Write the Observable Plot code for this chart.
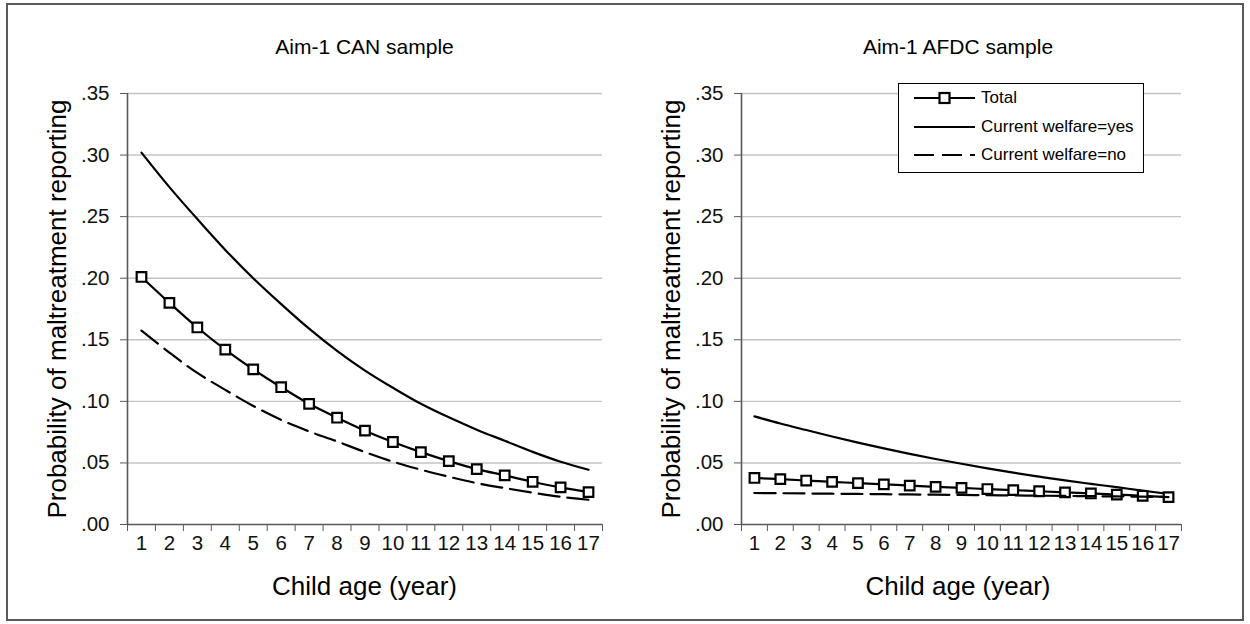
<!DOCTYPE html>
<html>
<head>
<meta charset="utf-8">
<script src="https://cdn.jsdelivr.net/npm/d3@7"></script>
<script src="https://cdn.jsdelivr.net/npm/@observablehq/plot@0.6"></script>
<style>
  body { margin: 0; background: #fff; font-family: "Liberation Sans", Arial, sans-serif; }
  #wrap { position: relative; width: 1250px; height: 624px; overflow: hidden; background: #fff; }
  #frame { position: absolute; left: 6px; top: 3px; width: 1238px; height: 618px; border: 2px solid #595959; box-sizing: border-box; }
  .panel { position: absolute; top: 0; }
  .title { position: absolute; font-size: 21px; line-height: 24px; text-align: center; color: #000; white-space: nowrap; }
  .xlab { position: absolute; font-size: 26px; line-height: 30px; text-align: center; color: #000; white-space: nowrap; }
  .ylab { position: absolute; font-size: 26px; line-height: 30px; text-align: center; color: #000; white-space: nowrap; width: 500px; transform: rotate(-90deg); transform-origin: 50% 50%; }
  #legend { position: absolute; background: #fff; border: 1.5px solid #000; box-sizing: border-box; }
  .lrow { position: absolute; left: 0; height: 26px; display: flex; align-items: center; }
  .lrow span { font-size: 17px; color: #000; margin-left: 4px; white-space: nowrap; }
</style>
</head>
<body>
<div id="wrap">
  <div id="frame"></div>
</div>
<script>
// ---- data ----
const ages = [1, 2, 3, 4, 5, 6, 7, 8, 9, 10, 11, 12, 13, 14, 15, 16, 17];

const canTotal = [0.201, 0.180, 0.160, 0.142, 0.126, 0.1115, 0.098, 0.0867, 0.0762, 0.067, 0.0588, 0.0515, 0.045, 0.0399, 0.0347, 0.0301, 0.0263];
const canYes   = [0.302, 0.274, 0.248, 0.223, 0.200, 0.179, 0.159, 0.141, 0.125, 0.111, 0.098, 0.087, 0.077, 0.068, 0.059, 0.051, 0.0445];
const canNo    = [0.1575, 0.1396, 0.1231, 0.1093, 0.0963, 0.0849, 0.0756, 0.0675, 0.0588, 0.051, 0.0445, 0.0388, 0.0336, 0.0296, 0.0258, 0.0225, 0.0201];

const afdcTotal = [0.0378, 0.0368, 0.0357, 0.0346, 0.0336, 0.0326, 0.0316, 0.0306, 0.0297, 0.0288, 0.0279, 0.0270, 0.0261, 0.0252, 0.0243, 0.0233, 0.0222];
const afdcYes   = [0.0878, 0.0820, 0.0767, 0.0715, 0.0665, 0.0618, 0.0574, 0.0532, 0.0493, 0.0456, 0.0421, 0.0389, 0.0358, 0.0330, 0.0303, 0.0275, 0.0248];
const afdcNo    = [0.0256, 0.0254, 0.0252, 0.0250, 0.0248, 0.0246, 0.0244, 0.0242, 0.0240, 0.0238, 0.0236, 0.0234, 0.0232, 0.0230, 0.0228, 0.0226, 0.0223];

const yTicks = [0, 0.05, 0.10, 0.15, 0.20, 0.25, 0.30, 0.35];
const yTickLabels = [".00", ".05", ".10", ".15", ".20", ".25", ".30", ".35"];
const panelTitles = ["Aim-1 CAN sample", "Aim-1 AFDC sample"];
const seriesNames = ["Total", "Current welfare=yes", "Current welfare=no"];
const xTitle = "Child age (year)";
const yTitle = "Probability of maltreatment reporting";

// ---- drawing ----
const wrap = document.getElementById("wrap");
const H = 624, MT = 93, MB = 100;
const INK = "#000", AXIS = "#595959", GRID = "#c4c4c4";

function rows(vals) { return ages.map((a, i) => ({age: a, v: vals[i]})); }

function makePanel(total, yes, no, cfg) {
  const lo = ages[0] - 0.5, hi = ages[ages.length - 1] + 0.5;
  const bounds = [lo, ...ages.map(a => a + 0.5)];
  const plot = Plot.plot({
    width: cfg.width, height: H,
    marginLeft: cfg.ml, marginRight: cfg.mr, marginTop: MT, marginBottom: MB,
    style: {background: "transparent", color: AXIS, fontFamily: "Liberation Sans, Arial, sans-serif", overflow: "visible"},
    x: {type: "linear", domain: [lo, hi], ticks: bounds, tickFormat: () => "", tickSize: 7, label: null},
    y: {domain: [0, 0.35], ticks: yTicks, tickFormat: () => "", tickSize: 7, label: null},
    marks: [
      Plot.ruleY(yTicks.slice(1), {stroke: GRID, strokeWidth: 1.4}),
      Plot.ruleY([0], {stroke: AXIS, strokeWidth: 1.6}),
      Plot.ruleX([lo], {stroke: AXIS, strokeWidth: 1.6}),
      Plot.text(ages, {x: d => d, frameAnchor: "bottom", dy: 25, text: d => String(d), fill: "#111", fontSize: 20.5}),
      Plot.text(yTicks, {y: d => d, frameAnchor: "left", dx: -18, textAnchor: "end", text: (d, i) => yTickLabels[i], fill: "#111", fontSize: 20.5}),
      Plot.line(rows(yes), {x: "age", y: "v", stroke: INK, strokeWidth: 2.2, curve: "catmull-rom"}),
      Plot.line(rows(total), {x: "age", y: "v", stroke: INK, strokeWidth: 2.2, curve: "catmull-rom"}),
      Plot.dot(rows(total), {x: "age", y: "v", symbol: "square", r: 5.4, fill: "white", stroke: INK, strokeWidth: 2.2}),
      Plot.line(rows(no), {x: "age", y: "v", stroke: INK, strokeWidth: 2.2, strokeDasharray: "21,8", curve: "catmull-rom"})
    ]
  });
  const holder = document.createElement("div");
  holder.className = "panel";
  holder.style.left = cfg.left + "px";
  holder.appendChild(plot);
  wrap.appendChild(holder);

  const x0 = cfg.left + cfg.ml;
  const cx = cfg.cx;
  const t = document.createElement("div");
  t.className = "title"; t.textContent = cfg.title;
  t.style.left = (cx - 200) + "px"; t.style.width = "400px"; t.style.top = "35px";
  wrap.appendChild(t);

  const xl = document.createElement("div");
  xl.className = "xlab"; xl.textContent = xTitle;
  xl.style.left = (cx - 200) + "px"; xl.style.width = "400px"; xl.style.top = "571px";
  wrap.appendChild(xl);

  const yl = document.createElement("div");
  yl.className = "ylab"; yl.textContent = yTitle;
  const ycx = x0 - 70, ycy = (MT + (H - MB)) / 2;
  yl.style.left = (ycx - 250) + "px"; yl.style.top = (ycy - 15) + "px";
  wrap.appendChild(yl);
}

makePanel(canTotal, canYes, canNo, {left: 0, width: 625, ml: 127, mr: 23, cx: 364.5, title: panelTitles[0]});
makePanel(afdcTotal, afdcYes, afdcNo, {left: 625, width: 625, ml: 116, mr: 69, cx: 958, title: panelTitles[1]});

// ---- legend ----
const legend = document.createElement("div");
legend.id = "legend";
Object.assign(legend.style, {left: "898px", top: "83px", width: "246px", height: "90px"});
const styles = [
  {dash: null, marker: true},
  {dash: null, marker: false},
  {dash: "20,8", marker: false}
];
seriesNames.forEach((name, i) => {
  const row = document.createElement("div");
  row.className = "lrow";
  row.style.top = (1 + i * 28.5) + "px";
  const ns = "http://www.w3.org/2000/svg";
  const svg = document.createElementNS(ns, "svg");
  svg.setAttribute("width", "78"); svg.setAttribute("height", "26");
  const ln = document.createElementNS(ns, "line");
  ln.setAttribute("x1", "15"); ln.setAttribute("x2", "76");
  ln.setAttribute("y1", "13"); ln.setAttribute("y2", "13");
  ln.setAttribute("stroke", "#000"); ln.setAttribute("stroke-width", "2.2");
  if (styles[i].dash) ln.setAttribute("stroke-dasharray", styles[i].dash);
  svg.appendChild(ln);
  if (styles[i].marker) {
    const r = document.createElementNS(ns, "rect");
    r.setAttribute("x", "40.5"); r.setAttribute("y", "8"); r.setAttribute("width", "10"); r.setAttribute("height", "10");
    r.setAttribute("fill", "#fff"); r.setAttribute("stroke", "#000"); r.setAttribute("stroke-width", "2.2");
    svg.appendChild(r);
  }
  row.appendChild(svg);
  const sp = document.createElement("span");
  sp.textContent = name;
  row.appendChild(sp);
  legend.appendChild(row);
});
wrap.appendChild(legend);
</script>
</body>
</html>
